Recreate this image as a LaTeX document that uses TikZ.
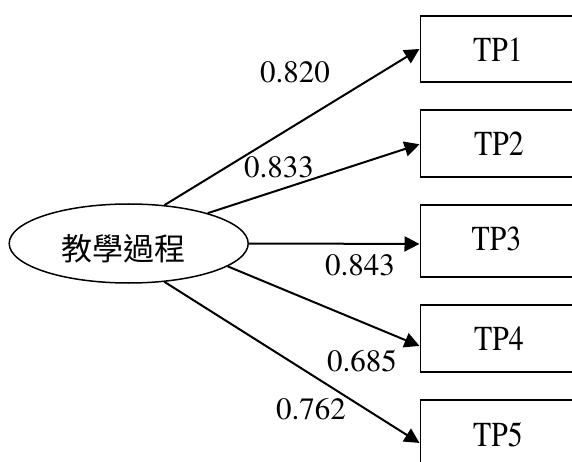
\documentclass[tikz,border=0pt]{standalone}
\usepackage{fontspec}
\newfontfamily\cjkfont{Noto Sans CJK TC}
\newfontfamily\tpfont[FakeStretch=0.85]{texgyretermes-regular.otf}
\newfontfamily\numfont{texgyretermes-regular.otf}
\usetikzlibrary{arrows.meta,shapes.geometric}
\tikzset{
  tpbox/.style={draw, line width=1.9pt, rectangle, minimum width=200pt, anchor=north west, inner sep=0pt},
  tplabel/.style={anchor=base, inner sep=0pt, font=\tpfont\fontsize{35}{40}\selectfont},
  coef/.style={anchor=base, inner sep=0pt, font=\numfont\fontsize{31}{36}\selectfont},
  loadarrow/.style={line width=2pt, -{Triangle[length=15pt,width=15pt]}},
}
\begin{document}
\begin{tikzpicture}[x=1pt,y=-1pt]
\useasboundingbox (0,0) rectangle (572,462);
\clip (0,0) rectangle (572,462);
% latent variable
\node[draw, ellipse, line width=1.5pt, minimum width=239pt, minimum height=79pt, inner sep=0pt] (ell) at (128.7,243.5) {};
\node[inner sep=0pt, font=\cjkfont\fontsize{31}{36}\selectfont] (lat) at (123.5,248.5) {教學過程};
% boxes
\node[tpbox, minimum height=66pt] (tp1) at (419.5,15) {};
\node[tpbox, minimum height=67pt] (tp2) at (419.5,109.3) {};
\node[tpbox, minimum height=72pt] (tp3) at (419.5,204) {};
\node[tpbox, minimum height=67pt] (tp4) at (419.5,304) {};
\node[tpbox, minimum height=67pt] (tp5) at (419.5,399) {};
% box labels
\node[tplabel] (t1) at (498,62) {TP1};
\node[tplabel] (t2) at (499,155.7) {TP2};
\node[tplabel] (t3) at (496.5,250.7) {TP3};
\node[tplabel] (t4) at (499,350.7) {TP4};
\node[tplabel] (t5) at (498,446) {TP5};
% paths
\draw[loadarrow] (ell.47.4) -- ([yshift=0pt]tp1.west);
\draw[loadarrow] (ell.21.9) -- ([yshift=-0.5pt]tp2.west);
\draw[loadarrow] (ell.0) -- ([yshift=-3pt]tp3.west);
\draw[loadarrow] (ell.-13.4) -- ([yshift=-7.5pt]tp4.west);
\draw[loadarrow] (ell.-47.4) -- ([yshift=-9.5pt]tp5.west);
% coefficients
\node[coef] (c1) at (295,82.7) {0.820};
\node[coef] (c2) at (279,178) {0.833};
\node[coef] (c3) at (360,275) {0.843};
\node[coef] (c4) at (362,371.7) {0.685};
\node[coef] (c5) at (311,419) {0.762};
\end{tikzpicture}
\end{document}
